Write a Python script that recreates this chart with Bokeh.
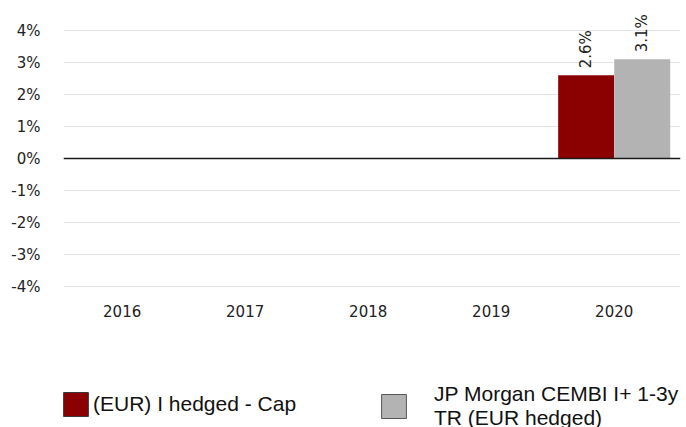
import numpy as np
from bokeh.plotting import figure
from bokeh.layouts import column
from bokeh.models import (ColumnDataSource, Range1d, FixedTicker, PrintfTickFormatter,
                          Span, Legend, LegendItem)
from bokeh.core.properties import value
from bokeh.embed import file_html
from bokeh.resources import INLINE

years = ["2016", "2017", "2018", "2019", "2020"]
fund_name = "(EUR) I hedged - Cap"
bench_name = "JP Morgan CEMBI I+ 1-3y\nTR (EUR hedged)"
fund = [np.nan, np.nan, np.nan, np.nan, 2.6]
bench = [np.nan, np.nan, np.nan, np.nan, 3.1]
y_ticks = [-4, -3, -2, -1, 0, 1, 2, 3, 4]

fund_color = "#8B0000"
bench_color = "#B3B3B3"
text_color = "#222222"
FONT = "DejaVu Sans"

xs = np.arange(len(years), dtype=float)
bw = 0.455
off = 0.228

W = 686
H1 = 330
H2 = 97

p = figure(width=W, height=H1, output_backend="svg", toolbar_location=None,
           x_range=Range1d(-0.477, 4.539), y_range=Range1d(-4.5, 4.6875),
           min_border_left=63, min_border_right=6, min_border_top=8,
           min_border_bottom=H1 - 302, outline_line_color=None)

src_f = ColumnDataSource(dict(x=xs - off, top=fund))
src_b = ColumnDataSource(dict(x=xs + off, top=bench))
p.vbar(x="x", top="top", bottom=0, width=bw, source=src_f, fill_color=fund_color, line_color=None)
p.vbar(x="x", top="top", bottom=0, width=bw, source=src_b, fill_color=bench_color, line_color=None)

# value labels
for src_x, vals in ((xs - off, fund), (xs + off, bench)):
    lx = [x for x, v in zip(src_x, vals) if not np.isnan(v)]
    ly = [v for v in vals if not np.isnan(v)]
    lt = [f"{v:.1f}%" for v in ly]
    p.text(x=lx, y=ly, text=lt, angle=np.pi / 2, text_align="left", text_baseline="middle",
           y_offset=-7, text_font=value(FONT), text_font_size="15px", text_color=text_color)

p.add_layout(Span(location=0, dimension="width", line_color="#1a1a1a", line_width=1.3))

p.xgrid.grid_line_color = None
p.ygrid.ticker = FixedTicker(ticks=y_ticks)
p.ygrid.grid_line_color = "#e3e3e3"
p.ygrid.grid_line_width = 1

p.yaxis.ticker = FixedTicker(ticks=y_ticks)
p.yaxis.formatter = PrintfTickFormatter(format="%d%%")
p.xaxis.ticker = FixedTicker(ticks=list(xs))
p.xaxis.major_label_overrides = {float(i): y for i, y in zip(xs, years)}
p.xaxis.major_label_overrides.update({int(i): y for i, y in zip(xs, years)})
for ax in (p.xaxis[0], p.yaxis[0]):
    ax.axis_line_color = None
    ax.major_tick_line_color = None
    ax.minor_tick_line_color = None
    ax.major_tick_out = 0
    ax.major_tick_in = 0
    ax.major_label_text_font = FONT
    ax.major_label_text_font_size = "15px"
    ax.major_label_text_color = text_color
p.yaxis.major_label_standoff = 23
p.xaxis.major_label_standoff = 2

# legend figure (its frame is aligned with the chart frame by the column layout)
p2 = figure(width=W, height=H2, output_backend="svg", toolbar_location=None,
            x_range=Range1d(0, 1), y_range=Range1d(0, 1),
            min_border=0, outline_line_color=None)
p2.axis.visible = False
p2.grid.visible = False
r_f = p2.rect(x=[np.nan], y=[np.nan], width=1, height=1, fill_color=fund_color, line_color="#3a3a3a")
r_b = p2.rect(x=[np.nan], y=[np.nan], width=1, height=1, fill_color=bench_color, line_color="#555555")

def make_legend(label, rend, loc, standoff, lh):
    lg = Legend(items=[LegendItem(label=label, renderers=[rend])], location=loc,
                orientation="horizontal", border_line_color=None, background_fill_alpha=0,
                padding=0, margin=0, glyph_width=31, glyph_height=30, label_height=24,
                label_standoff=standoff, label_text_font="Liberation Sans",
                label_text_font_size="21px", label_text_color="#111111",
                label_text_line_height=lh)
    p2.add_layout(lg)

make_legend(fund_name, r_f, (-3, H2 - (419 - H1)), 2, 1.1)
make_legend(bench_name, r_b, (315, H2 - (430 - H1)), 25, 1.32)

open("out.html", "w").write(file_html(column(p, p2, spacing=0), INLINE))
